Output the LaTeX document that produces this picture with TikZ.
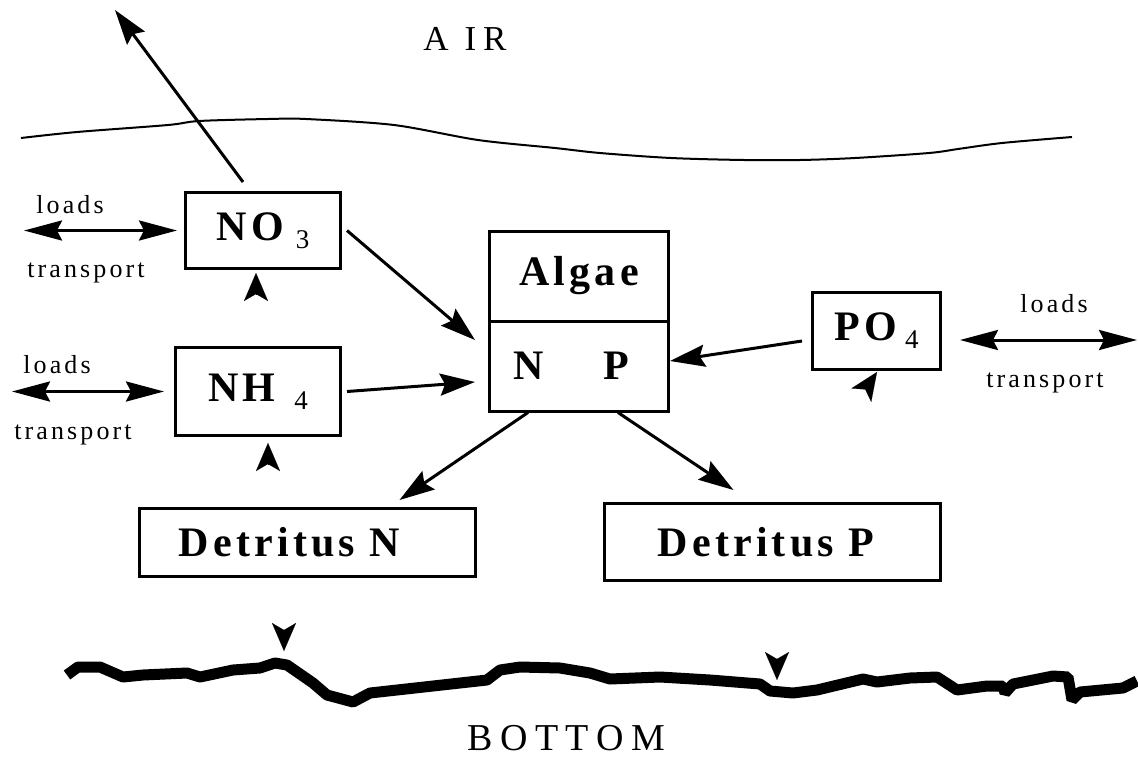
\documentclass[tikz,border=0pt]{standalone}
\usepackage{fontspec}
\setmainfont{Liberation Serif}
\newfontfamily\boxfont[LetterSpace=10]{Liberation Serif}
\newfontfamily\loadfont[LetterSpace=12]{Liberation Serif}
\newfontfamily\tagfont[LetterSpace=20]{Liberation Serif}
\usetikzlibrary{arrows.meta}

\newcommand{\chem}[3]{#1\hspace{#3}\raisebox{-8pt}{\fontsize{27}{27}\rmfamily\mdseries #2}}

\begin{document}
\begin{tikzpicture}[x=1pt, y=-1pt,
    box/.style={draw, line width=3pt, inner sep=0pt, font=\fontsize{42}{42}\boxfont\bfseries},
    flow/.style={line width=3pt, -{Stealth[length=35pt, width=22pt, inset=5pt]}},
    loadarrow/.style={line width=3pt, {Stealth[length=38pt, width=20pt, inset=5pt]}-{Stealth[length=38pt, width=20pt, inset=5pt]}},
    srctip/.style={line width=0.1pt, -{Stealth[length=28pt, width=24pt, inset=7pt]}},
    loadtext/.style={anchor=base, font=\fontsize{26}{26}\loadfont},
  ]
  \useasboundingbox (0,0) rectangle (1138,756);

  % water surface and sediment
  \draw[line width=2pt] plot[smooth, tension=0.5] coordinates {(21,138) (77,132) (168,125) (199,121) (268,119)
    (306,119) (394,125) (478,140) (555,148) (600,153) (671,158) (744,160) (800,160) (855,158) (929,153)
    (958,149) (1002,143) (1072,137)};
  \draw[line width=11pt, line join=bevel] (67,675) -- (78,667) -- (100,667) -- (123,677) -- (143,675) -- (187,673)
    -- (200,677) -- (233,670) -- (260,668) -- (275,663) -- (287,665) -- (313,683) -- (327,695) -- (353,702)
    -- (370,693) -- (487,680) -- (500,670) -- (520,667) -- (560,668) -- (590,673) -- (610,679) -- (660,677)
    -- (710,680) -- (760,684) -- (770,691) -- (793,693) -- (817,690) -- (863,679) -- (877,682) -- (910,678)
    -- (937,677) -- (957,690) -- (987,686) -- (1003,686) -- (1005,693) -- (1013,684) -- (1053,676) -- (1068,677)
    -- (1072,700) -- (1080,692) -- (1123,688) -- (1137,681);

  \node[anchor=base, font=\fontsize{35}{35}\tagfont] (air) at (465,50) {A IR};
  \node[anchor=base, font=\fontsize{38}{38}\tagfont] (bottom) at (566,750) {BOTTOM};

  \node[box, minimum width=155pt, minimum height=76pt] (no3) at (263,230.5) {\chem{NO}{3}{12pt}};
  \node[box, minimum width=165pt, minimum height=88pt] (nh4) at (258,391.5) {\chem{NH}{4}{19pt}};
  \node[box, minimum width=179pt, minimum height=90pt] (algae) at (579,276) {Algae};
  \node[box, minimum width=179pt, minimum height=90pt] (algaenp) at (579,366) {N\hspace{60pt}P\hspace*{15pt}};
  \node[box, minimum width=128pt, minimum height=77pt] (po4) at (876.5,331) {\chem{PO}{4}{8pt}};
  \node[box, minimum width=336pt, minimum height=68pt] (detn) at (307.5,542.5) {Detritus N\hspace*{36pt}};
  \node[box, minimum width=336pt, minimum height=77pt] (detp) at (772.5,542) {Detritus P\hspace*{13pt}};

  \coordinate (airout) at (115,10);
  \draw[flow] ([xshift=-20pt, yshift=9pt]no3.north) -- (airout);
  \draw[flow] ([xshift=5pt]no3.east) -- ([xshift=-13pt, yshift=26pt]algaenp.west);
  \draw[flow] ([xshift=5pt]nh4.east) -- ([xshift=-13pt, yshift=-16pt]algaenp.west);
  \draw[flow] ([xshift=-9pt, yshift=-10pt]po4.west) -- ([yshift=5pt]algaenp.east);
  \draw[flow] ([xshift=-51pt]algaenp.south) -- ([xshift=92pt, yshift=7pt]detn.north);
  \draw[flow] ([xshift=39pt]algaenp.south) -- ([xshift=-39pt, yshift=12pt]detp.north);

  % loads / transport
  \coordinate (loadsno3) at (24,230.5);
  \coordinate (loadsnh4) at (12,391.5);
  \coordinate (loadspo4) at (1137,340);
  \draw[loadarrow] (loadsno3) -- ([xshift=-7pt]no3.west);
  \draw[loadarrow] (loadsnh4) -- ([xshift=-10pt]nh4.west);
  \draw[loadarrow] ([xshift=18pt, yshift=-9pt]po4.east) -- (loadspo4);
  \node[loadtext] (loadsa) at (70,213) {loads};
  \node[loadtext] (transporta) at (86,277) {transport};
  \node[loadtext] (loadsb) at (57,373) {loads};
  \node[loadtext] (transportb) at (73,439) {transport};
  \node[loadtext] (loadsc) at (1054,312) {loads};
  \node[loadtext] (transportc) at (1045,387) {transport};

  % fluxes from the sediment
  \coordinate (no3src) at (256,294);     \coordinate (no3tip) at (256,273);
  \coordinate (nh4src) at (268,464);     \coordinate (nh4tip) at (268,443);
  \coordinate (po4src) at (865.2,389.4); \coordinate (po4tip) at (877,372);
  \coordinate (detnsrc) at (284,630);    \coordinate (detntip) at (284,651);
  \coordinate (detpsrc) at (777,659);    \coordinate (detptip) at (777,680);
  \draw[srctip] (no3src) -- (no3tip);
  \draw[srctip] (nh4src) -- (nh4tip);
  \draw[srctip] (po4src) -- (po4tip);
  \draw[srctip] (detnsrc) -- (detntip);
  \draw[srctip] (detpsrc) -- (detptip);
\end{tikzpicture}
\end{document}
